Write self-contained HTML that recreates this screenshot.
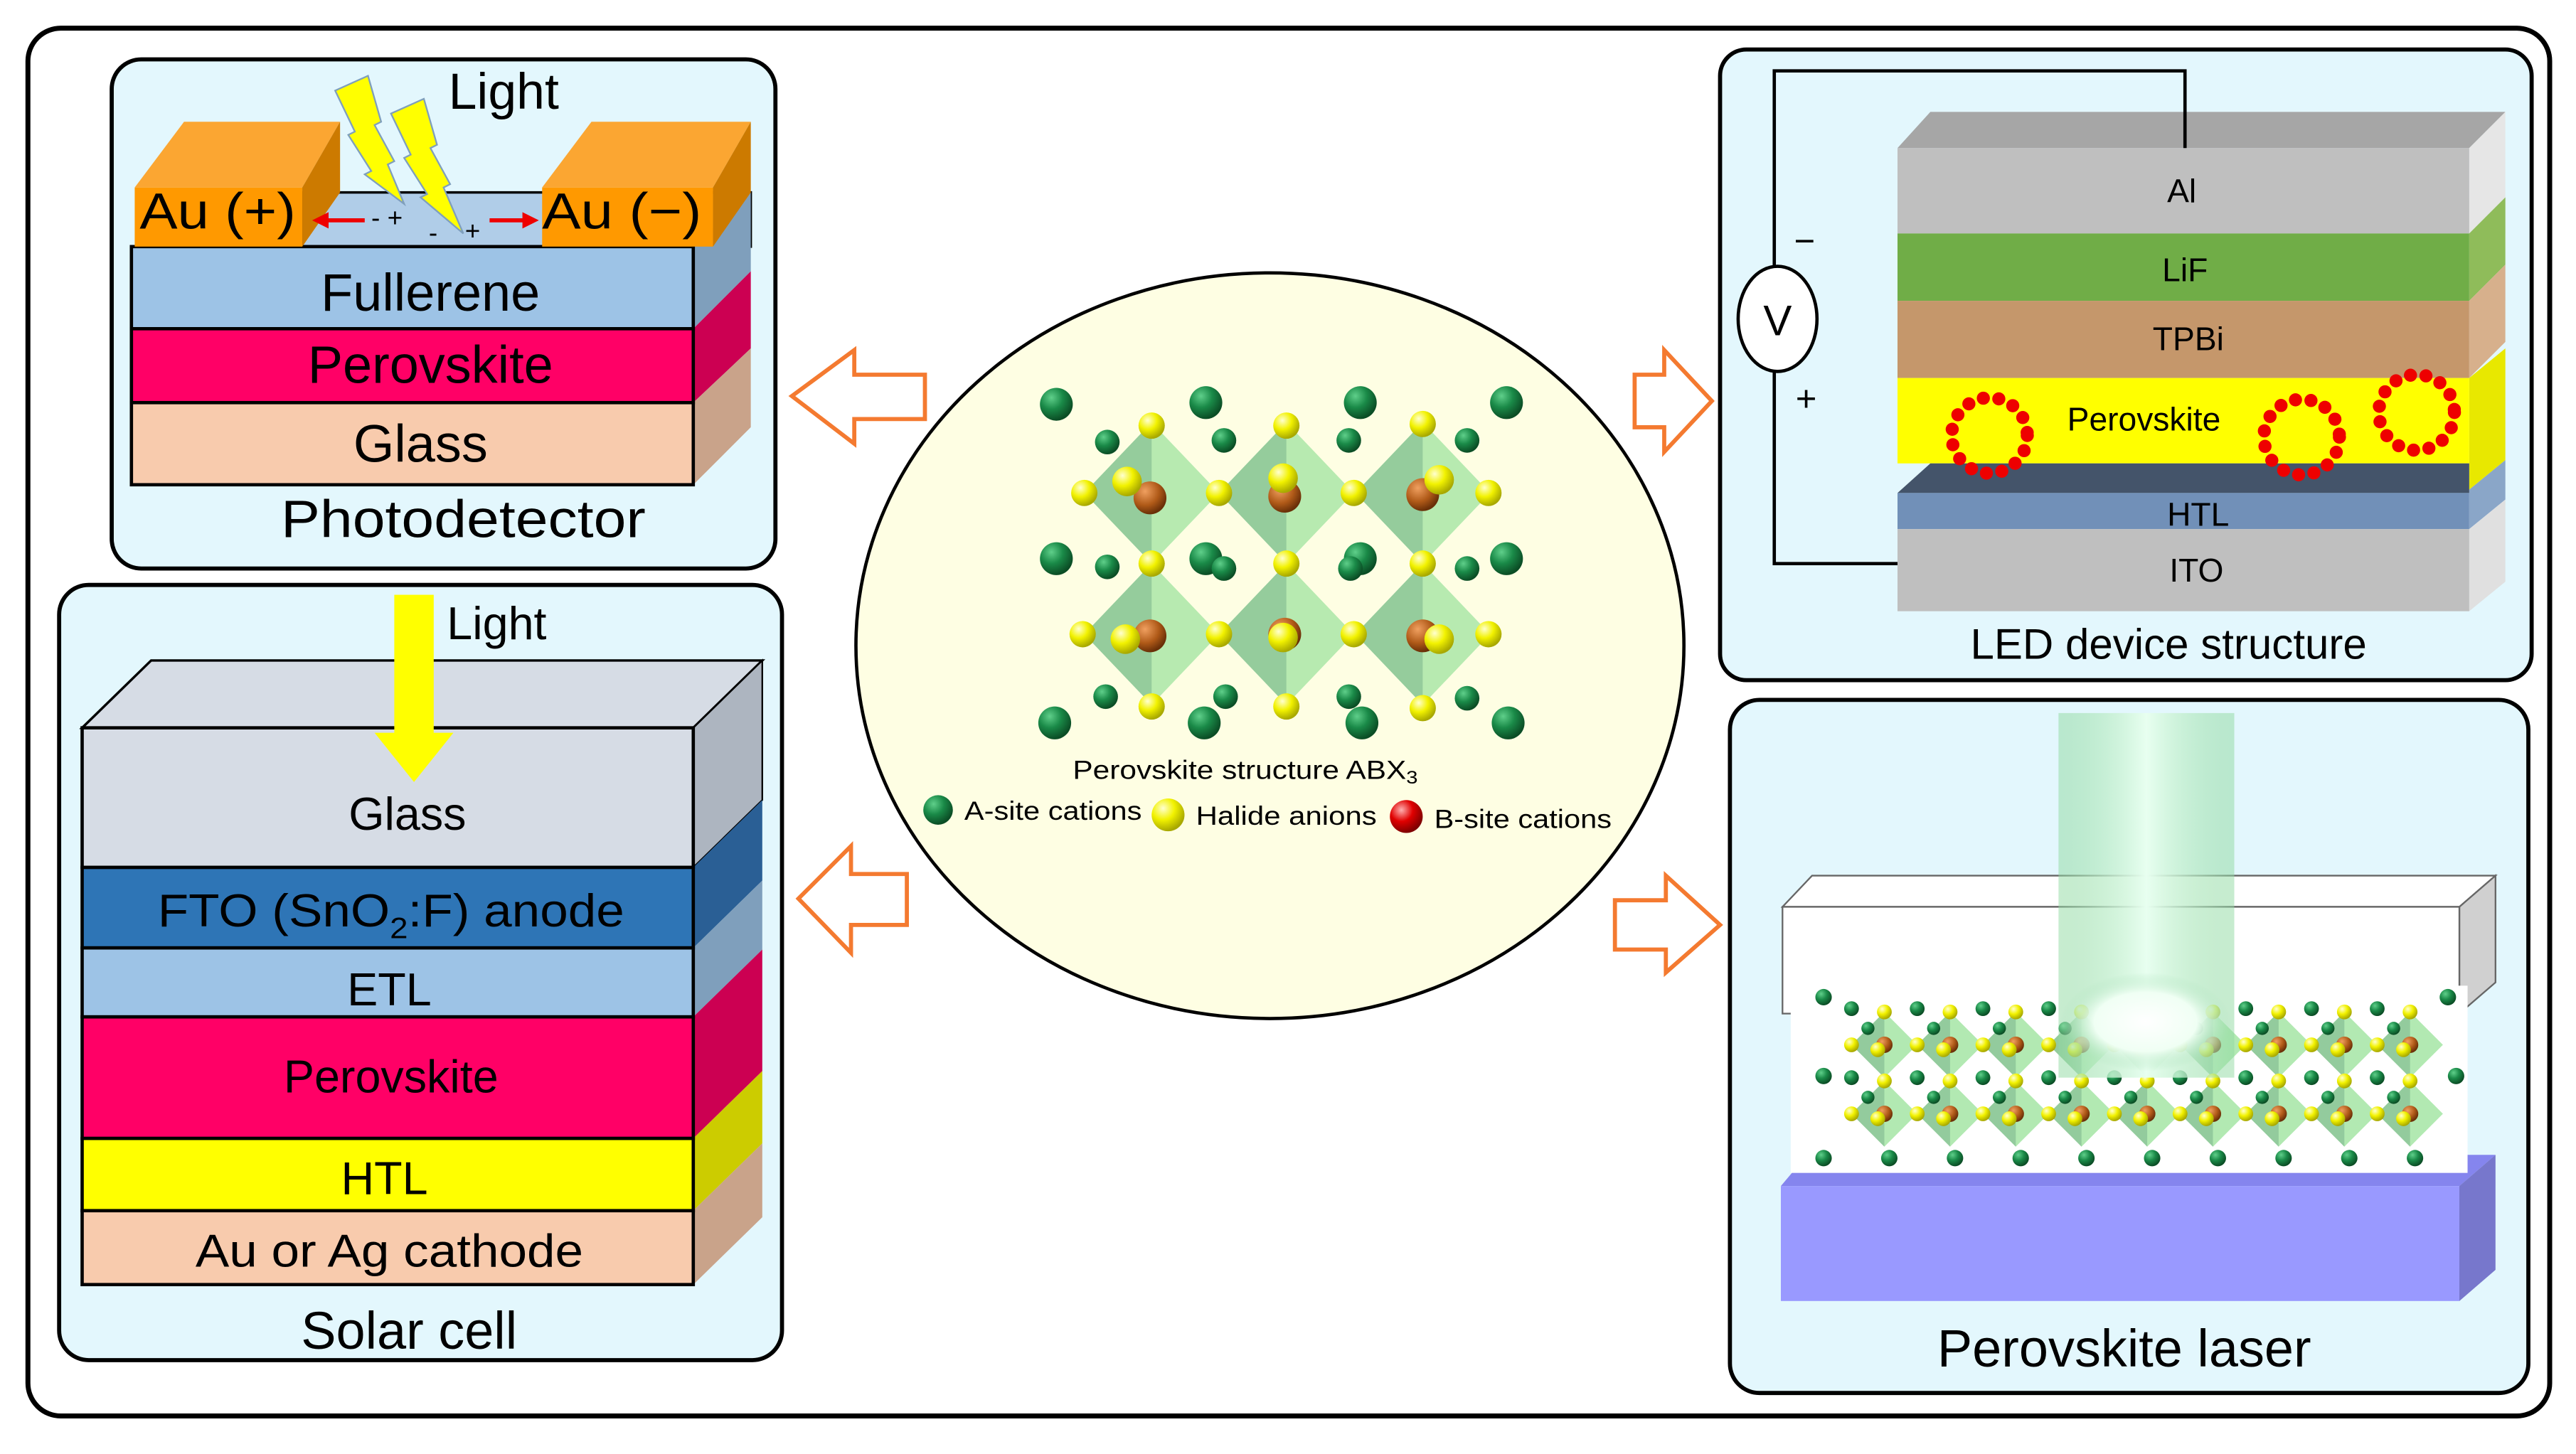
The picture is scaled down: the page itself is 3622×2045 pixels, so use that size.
<!DOCTYPE html>
<html><head><meta charset="utf-8"><style>
html,body{margin:0;padding:0;background:#fff;}
svg{display:block;}
text{font-family:"Liberation Sans",Arial,sans-serif;}
</style></head><body>
<svg width="3622" height="2045" viewBox="0 0 1568 885" xmlns="http://www.w3.org/2000/svg">
<defs>
<radialGradient id="gG" cx="35%" cy="30%" r="70%"><stop offset="0" stop-color="#5fcf8a"/><stop offset="0.5" stop-color="#1a8a48"/><stop offset="1" stop-color="#0b4d25"/></radialGradient>
<radialGradient id="gY" cx="35%" cy="30%" r="70%"><stop offset="0" stop-color="#ffffd0"/><stop offset="0.5" stop-color="#f2f200"/><stop offset="1" stop-color="#a8a800"/></radialGradient>
<radialGradient id="gB" cx="35%" cy="30%" r="70%"><stop offset="0" stop-color="#f0a060"/><stop offset="0.6" stop-color="#b05a18"/><stop offset="1" stop-color="#6a3008"/></radialGradient>
<radialGradient id="gR" cx="35%" cy="30%" r="70%"><stop offset="0" stop-color="#ffb0b0"/><stop offset="0.5" stop-color="#e00000"/><stop offset="1" stop-color="#800000"/></radialGradient>
<linearGradient id="beam" x1="0" x2="1" y1="0" y2="0"><stop offset="0" stop-color="#8fd8a0" stop-opacity="0.5"/><stop offset="0.5" stop-color="#e8fff0"/><stop offset="1" stop-color="#8fd8a0" stop-opacity="0.5"/></linearGradient>
<radialGradient id="spot" cx="50%" cy="50%" r="50%"><stop offset="0" stop-color="#fff"/><stop offset="0.6" stop-color="#f0fff4"/><stop offset="1" stop-color="#a8e0b8" stop-opacity="0"/></radialGradient>
<g id="oct">
<polygon points="0,-43 41,0 0,43 -41,0" fill="#9fe39f" fill-opacity="0.75"/>
<polygon points="0,-43 -41,0 0,43" fill="#7fb88f" fill-opacity="0.6"/>
</g>
<g id="cell">
<polygon points="0,-20 20,0 0,20 -20,0" fill="#9fe39f" fill-opacity="0.8"/>
<polygon points="0,-20 -20,0 0,20" fill="#7fb88f" fill-opacity="0.6"/>
<circle cx="0" cy="0" r="5" fill="url(#gB)"/>
<circle cx="0" cy="-20" r="4.5" fill="url(#gY)"/>
<circle cx="-20" cy="0" r="4.5" fill="url(#gY)"/>
<circle cx="-4" cy="3" r="4.5" fill="url(#gY)"/>
<circle cx="-20" cy="-22" r="4.5" fill="url(#gG)"/>
<circle cx="-10" cy="-10" r="4" fill="url(#gG)"/>
</g>
</defs>

<rect x="17" y="17" width="1535" height="845" rx="20" fill="#fff" stroke="#000" stroke-width="3"/>

<!-- ===== Photodetector ===== -->
<rect x="68" y="36" width="404" height="310" rx="18" fill="#e3f7fd" stroke="#000" stroke-width="2.5"/>
<polygon points="184,117 457,117 457,150 184,150" fill="#b0cde8" stroke="#000" stroke-width="1.5"/>
<polygon points="422,150 457,117 457,165 422,200" fill="#7f9fbc"/>
<polygon points="422,200 457,165 457,212 422,245" fill="#cc0052"/>
<polygon points="422,245 457,212 457,260 422,295" fill="#c9a38a"/>
<rect x="80" y="150" width="342" height="50" fill="#9dc3e6" stroke="#000" stroke-width="2"/>
<rect x="80" y="200" width="342" height="45" fill="#ff0066" stroke="#000" stroke-width="2"/>
<rect x="80" y="245" width="342" height="50" fill="#f8cbad" stroke="#000" stroke-width="2"/>
<polygon points="82,114 112,74 207,74 184,114" fill="#fba632"/>
<polygon points="184,114 207,74 207,117 184,150" fill="#cc7a00"/>
<rect x="82" y="114" width="102" height="36" fill="#ff9900"/>
<polygon points="330,114 360,74 457,74 434,114" fill="#fba632"/>
<polygon points="434,114 457,74 457,117 434,150" fill="#cc7a00"/>
<rect x="330" y="114" width="104" height="36" fill="#ff9900"/>
<text x="85" y="139" font-size="31" textLength="95" lengthAdjust="spacingAndGlyphs">Au (+)</text>
<text x="330" y="139" font-size="31" textLength="97" lengthAdjust="spacingAndGlyphs">Au (−)</text>
<polygon points="204,55 216,80 212,82 226,104 222,106 246,124 236,100 240,98 228,76 232,74 224,46" fill="#ffff00" stroke="#7f9fbc" stroke-width="1"/>
<polygon points="238,69 250,94 246,96 260,118 256,120 282,142 270,114 274,112 262,90 266,88 258,60" fill="#ffff00" stroke="#7f9fbc" stroke-width="1"/>
<text x="273" y="66" font-size="31">Light</text>
<line x1="222" y1="134" x2="196" y2="134" stroke="#e00" stroke-width="2.5"/>
<polygon points="190,134 200,129 200,139" fill="#e00"/>
<line x1="298" y1="134" x2="322" y2="134" stroke="#e00" stroke-width="2.5"/>
<polygon points="328,134 318,129 318,139" fill="#e00"/>
<text x="226" y="138" font-size="16">- +</text>
<text x="261" y="147" font-size="16">-</text>
<text x="283" y="146" font-size="16">+</text>
<text x="262" y="189" font-size="32" text-anchor="middle">Fullerene</text>
<text x="262" y="233" font-size="32" text-anchor="middle">Perovskite</text>
<text x="256" y="281" font-size="32" text-anchor="middle">Glass</text>
<text x="282" y="327" font-size="32" text-anchor="middle" textLength="222" lengthAdjust="spacingAndGlyphs">Photodetector</text>

<!-- ===== Solar cell ===== -->
<rect x="36" y="356" width="440" height="472" rx="18" fill="#e3f7fd" stroke="#000" stroke-width="2.5"/>
<polygon points="50,443 92,402 464,402 422,443" fill="#d6dce5" stroke="#000" stroke-width="1.5"/>
<polygon points="422,443 464,402 464,487 422,528" fill="#adb5c0" stroke="#000" stroke-width="1"/>
<polygon points="422,528 464,487 464,536 422,577" fill="#2a5f95"/>
<polygon points="422,577 464,536 464,578 422,619" fill="#7f9fbc"/>
<polygon points="422,619 464,578 464,652 422,693" fill="#cc0052"/>
<polygon points="422,693 464,652 464,696 422,737" fill="#cccc00"/>
<polygon points="422,737 464,696 464,741 422,782" fill="#c9a38a"/>
<rect x="50" y="443" width="372" height="85" fill="#d6dce5" stroke="#000" stroke-width="2"/>
<rect x="50" y="528" width="372" height="49" fill="#2e75b6" stroke="#000" stroke-width="2"/>
<rect x="50" y="577" width="372" height="42" fill="#9dc3e6" stroke="#000" stroke-width="2"/>
<rect x="50" y="619" width="372" height="74" fill="#ff0066" stroke="#000" stroke-width="2"/>
<rect x="50" y="693" width="372" height="44" fill="#ffff00" stroke="#000" stroke-width="2"/>
<rect x="50" y="737" width="372" height="45" fill="#f8cbad" stroke="#000" stroke-width="2"/>
<rect x="240" y="362" width="24" height="85" fill="#ffff00"/>
<polygon points="228,446 276,446 252,476" fill="#ffff00"/>
<text x="272" y="389" font-size="28">Light</text>
<text x="248" y="505" font-size="28" text-anchor="middle">Glass</text>
<text x="238" y="564" font-size="28" text-anchor="middle" textLength="284" lengthAdjust="spacingAndGlyphs">FTO (SnO<tspan font-size="18" dy="7">2</tspan><tspan dy="-7">:F) anode</tspan></text>
<text x="237" y="612" font-size="28" text-anchor="middle">ETL</text>
<text x="238" y="665" font-size="28" text-anchor="middle">Perovskite</text>
<text x="234" y="727" font-size="28" text-anchor="middle">HTL</text>
<text x="237" y="771" font-size="28" text-anchor="middle" textLength="236" lengthAdjust="spacingAndGlyphs">Au or Ag cathode</text>
<text x="249" y="821" font-size="32" text-anchor="middle">Solar cell</text>

<!-- ===== Centre ===== -->
<ellipse cx="773" cy="393" rx="252" ry="227" fill="#fefee3" stroke="#000" stroke-width="2"/>
<use href="#oct" x="701" y="300"/><use href="#oct" x="783" y="300"/><use href="#oct" x="866" y="300"/>
<use href="#oct" x="701" y="386"/><use href="#oct" x="783" y="386"/><use href="#oct" x="866" y="386"/>
<g fill="url(#gG)">
<circle cx="643" cy="246" r="10"/><circle cx="734" cy="245" r="10"/><circle cx="828" cy="245" r="10"/><circle cx="917" cy="245" r="10"/>
<circle cx="643" cy="340" r="10"/><circle cx="734" cy="340" r="10"/><circle cx="828" cy="340" r="10"/><circle cx="917" cy="340" r="10"/>
<circle cx="642" cy="440" r="10"/><circle cx="733" cy="440" r="10"/><circle cx="829" cy="440" r="10"/><circle cx="918" cy="440" r="10"/>
<circle cx="674" cy="269" r="7.5"/><circle cx="745" cy="268" r="7.5"/><circle cx="821" cy="268" r="7.5"/><circle cx="893" cy="268" r="7.5"/>
<circle cx="674" cy="345" r="7.5"/><circle cx="745" cy="346" r="7.5"/><circle cx="822" cy="346" r="7.5"/><circle cx="893" cy="346" r="7.5"/>
<circle cx="673" cy="424" r="7.5"/><circle cx="746" cy="424" r="7.5"/><circle cx="821" cy="424" r="7.5"/><circle cx="893" cy="425" r="7.5"/>
</g>
<g fill="url(#gB)">
<circle cx="700" cy="303" r="10"/><circle cx="782" cy="302" r="10"/><circle cx="866" cy="301" r="10"/>
<circle cx="700" cy="387" r="10"/><circle cx="782" cy="386" r="10"/><circle cx="866" cy="387" r="10"/>
</g>
<g fill="url(#gY)">
<circle cx="701" cy="259" r="8"/><circle cx="783" cy="259" r="8"/><circle cx="866" cy="258" r="8"/>
<circle cx="660" cy="300" r="8"/><circle cx="742" cy="300" r="8"/><circle cx="824" cy="300" r="8"/><circle cx="906" cy="300" r="8"/>
<circle cx="701" cy="343" r="8"/><circle cx="783" cy="343" r="8"/><circle cx="866" cy="343" r="8"/>
<circle cx="659" cy="386" r="8"/><circle cx="742" cy="386" r="8"/><circle cx="824" cy="386" r="8"/><circle cx="906" cy="386" r="8"/>
<circle cx="701" cy="430" r="8"/><circle cx="783" cy="430" r="8"/><circle cx="866" cy="431" r="8"/>
<circle cx="686" cy="293" r="9"/><circle cx="781" cy="291" r="9"/><circle cx="876" cy="292" r="9"/>
<circle cx="685" cy="389" r="9"/><circle cx="781" cy="388" r="9"/><circle cx="876" cy="389" r="9"/>
</g>
<text x="758" y="474" font-size="16" text-anchor="middle" textLength="210" lengthAdjust="spacingAndGlyphs">Perovskite structure ABX<tspan font-size="11" dy="3">3</tspan></text>
<circle cx="571" cy="493" r="9" fill="url(#gG)"/>
<text x="587" y="499" font-size="16" textLength="108" lengthAdjust="spacingAndGlyphs">A-site cations</text>
<circle cx="711" cy="496" r="10" fill="url(#gY)"/>
<text x="728" y="502" font-size="16" textLength="110" lengthAdjust="spacingAndGlyphs">Halide anions</text>
<circle cx="856" cy="497" r="10" fill="url(#gR)"/>
<text x="873" y="504" font-size="16" textLength="108" lengthAdjust="spacingAndGlyphs">B-site cations</text>

<g fill="#fff" stroke="#f47a30" stroke-width="2.5">
<polygon points="482,241 520,213 520,228 563,228 563,255 520,255 520,270"/>
<polygon points="486,547 518,515 518,532 552,532 552,563 518,563 518,580"/>
<polygon points="1042,244 1013,213 1013,228 995,228 995,260 1013,260 1013,275"/>
<polygon points="1047,563 1014,533 1014,548 983,548 983,578 1014,578 1014,592"/>
</g>

<!-- ===== LED ===== -->
<rect x="1047" y="30" width="494" height="384" rx="16" fill="#e3f7fd" stroke="#000" stroke-width="2.5"/>
<polygon points="1155,90 1175,68 1525,68 1503,90" fill="#a6a6a6"/>
<polygon points="1503,90 1525,68 1525,120 1503,142" fill="#e6e6e6"/>
<polygon points="1503,142 1525,120 1525,161 1503,183" fill="#8fbc5a"/>
<polygon points="1503,183 1525,161 1525,208 1503,230" fill="#d7b08c"/>
<polygon points="1503,230 1525,212 1525,280 1503,298" fill="#e8e800"/>
<polygon points="1503,298 1525,280 1525,304 1503,322" fill="#8aa6c8"/>
<polygon points="1503,322 1525,304 1525,354 1503,372" fill="#e0e0e0"/>
<rect x="1155" y="90" width="348" height="52" fill="#bfbfbf"/>
<rect x="1155" y="142" width="348" height="41" fill="#70ad47"/>
<rect x="1155" y="183" width="348" height="47" fill="#c5976b"/>
<rect x="1155" y="230" width="348" height="52" fill="#ffff00"/>
<polygon points="1155,300 1175,282 1503,282 1503,300" fill="#44546a"/>
<rect x="1155" y="300" width="348" height="22" fill="#7190b8"/>
<rect x="1155" y="322" width="348" height="50" fill="#bfbfbf"/>
<polyline points="1330,90 1330,43 1080,43 1080,163" fill="none" stroke="#000" stroke-width="2"/>
<polyline points="1080,225 1080,343 1155,343" fill="none" stroke="#000" stroke-width="2"/>
<ellipse cx="1082" cy="194" rx="24" ry="32" fill="#fff" stroke="#000" stroke-width="2"/>
<text x="1082" y="204" font-size="26" text-anchor="middle" font-family="Liberation Serif,serif">V</text>
<text x="1092" y="154" font-size="22">−</text>
<text x="1093" y="250" font-size="22">+</text>
<g fill="none" stroke="#e00" stroke-width="8" stroke-dasharray="0 9.5" stroke-linecap="round">
<circle cx="1211" cy="265" r="23"/><circle cx="1401" cy="266" r="23"/><circle cx="1471" cy="251" r="23"/>
</g>
<text x="1328" y="123" font-size="20" text-anchor="middle">Al</text>
<text x="1330" y="171" font-size="20" text-anchor="middle">LiF</text>
<text x="1332" y="213" font-size="20" text-anchor="middle">TPBi</text>
<text x="1305" y="262" font-size="20" text-anchor="middle">Perovskite</text>
<text x="1338" y="320" font-size="20" text-anchor="middle">HTL</text>
<text x="1337" y="354" font-size="20" text-anchor="middle">ITO</text>
<text x="1320" y="401" font-size="26" text-anchor="middle">LED device structure</text>

<!-- ===== Laser ===== -->
<rect x="1053" y="426" width="486" height="422" rx="18" fill="#e3f7fd" stroke="#000" stroke-width="2.5"/>
<polygon points="1084,722 1100,703 1519,703 1497,722" fill="#8585ee"/>
<polygon points="1497,722 1519,703 1519,773 1497,792" fill="#7777cc"/>
<rect x="1084" y="722" width="413" height="70" fill="#9999ff"/>
<polygon points="1085,552 1103,533 1519,533 1497,552" fill="#fff" stroke="#666" stroke-width="1"/>
<polygon points="1497,552 1519,533 1519,598 1497,617" fill="#d0d0d0" stroke="#666" stroke-width="1"/>
<rect x="1085" y="552" width="412" height="65" fill="#fff" stroke="#666" stroke-width="1"/>
<rect x="1090" y="600" width="412" height="114" fill="#fff"/>
<g>
<use href="#cell" x="1147" y="636"/><use href="#cell" x="1187" y="636"/><use href="#cell" x="1227" y="636"/><use href="#cell" x="1267" y="636"/><use href="#cell" x="1307" y="636"/><use href="#cell" x="1347" y="636"/><use href="#cell" x="1387" y="636"/><use href="#cell" x="1427" y="636"/><use href="#cell" x="1467" y="636"/>
<use href="#cell" x="1147" y="678"/><use href="#cell" x="1187" y="678"/><use href="#cell" x="1227" y="678"/><use href="#cell" x="1267" y="678"/><use href="#cell" x="1307" y="678"/><use href="#cell" x="1347" y="678"/><use href="#cell" x="1387" y="678"/><use href="#cell" x="1427" y="678"/><use href="#cell" x="1467" y="678"/>
</g>
<g fill="url(#gG)"><circle cx="1110" cy="607" r="5"/><circle cx="1110" cy="655" r="5"/><circle cx="1495" cy="655" r="5"/><circle cx="1490" cy="607" r="5"/>
<circle cx="1110" cy="705" r="5"/><circle cx="1150" cy="705" r="5"/><circle cx="1190" cy="705" r="5"/><circle cx="1230" cy="705" r="5"/><circle cx="1270" cy="705" r="5"/><circle cx="1310" cy="705" r="5"/><circle cx="1350" cy="705" r="5"/><circle cx="1390" cy="705" r="5"/><circle cx="1430" cy="705" r="5"/><circle cx="1470" cy="705" r="5"/></g>
<rect x="1253" y="434" width="107" height="222" fill="url(#beam)"/>
<ellipse cx="1306" cy="622" rx="52" ry="30" fill="url(#spot)"/>
<text x="1293" y="832" font-size="32" text-anchor="middle">Perovskite laser</text>
</svg>
</body></html>
